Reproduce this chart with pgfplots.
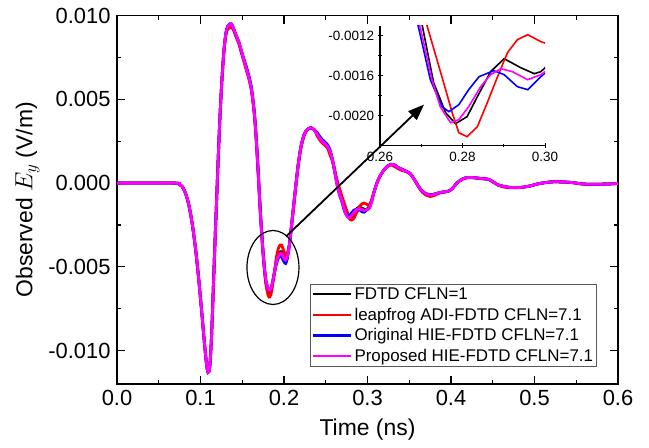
\documentclass[border=0pt]{standalone}
\usepackage{fontspec}
\setmainfont{Liberation Sans}
\usepackage{pgfplots}
\usepackage{pgfplotstable}
\pgfplotsset{compat=1.18}
\usetikzlibrary{arrows.meta}
\definecolor{cmag}{RGB}{255,0,255}
\definecolor{cred}{RGB}{255,0,0}
\definecolor{cblue}{RGB}{0,0,255}

% FDTD CFLN=1
\pgfplotstableread{
x y
0 0
0.068 0
0.074 -0.00005
0.078 -0.0002
0.082 -0.0006
0.086 -0.0013
0.090 -0.0024
0.094 -0.0039
0.098 -0.0058
0.102 -0.0080
0.105 -0.0097
0.107 -0.0107
0.109 -0.0113
0.111 -0.0110
0.113 -0.0094
0.115 -0.0068
0.117 -0.0040
0.119 -0.0014
0.121 0.0012
0.123 0.0036
0.125 0.0056
0.127 0.0072
0.129 0.0084
0.131 0.0091
0.133 0.0094
0.135 0.0095
0.137 0.0095
0.139 0.0093
0.142 0.0089
0.146 0.0084
0.150 0.0077
0.154 0.0070
0.158 0.0063
0.161 0.0056
0.164 0.0044
0.166 0.0032
0.168 0.0016
0.170 -0.0002
0.172 -0.0020
0.175 -0.0042
0.178 -0.0058
0.181 -0.0065
0.183 -0.0066
0.185 -0.0063
0.188 -0.0055
0.191 -0.0047
0.194 -0.0042
0.197 -0.0041
0.200 -0.0044
0.202 -0.0045
0.204 -0.0043
0.206 -0.0038
0.208 -0.0030
0.211 -0.0016
0.214 -0.0002
0.217 0.0011
0.220 0.0021
0.224 0.0029
0.228 0.0032
0.232 0.0033
0.236 0.0032
0.240 0.0029
0.244 0.0026
0.248 0.0024
0.252 0.0022
0.255 0.0019
0.258 0.0014
0.261 0.0007
0.264 -0.0001
0.267 -0.0006
0.2702 -0.00109
0.2730 -0.00167
0.2759 -0.00197
0.2783 -0.00208
0.2811 -0.00201
0.2836 -0.00181
0.2868 -0.00156
0.2901 -0.00143
0.2941 -0.00152
0.2974 -0.00158
0.2990 -0.00156
0.3010 -0.00148
0.304 -0.0012
0.308 -0.0005
0.312 0.0001
0.316 0.0005
0.320 0.0008
0.324 0.00102
0.328 0.00112
0.332 0.0011
0.336 0.00095
0.341 0.00082
0.346 0.0007
0.351 0.00058
0.355 0.0003
0.359 -0.00002
0.364 -0.0004
0.369 -0.0006
0.375 -0.00072
0.381 -0.00066
0.387 -0.00056
0.397 -0.00048
0.402 -0.0003
0.407 0.0
0.414 0.00025
0.421 0.00034
0.428 0.00032
0.435 0.00028
0.445 0.00022
0.451 0.00005
0.457 -0.00012
0.464 -0.0002
0.471 -0.00026
0.4835 -0.00026
0.4955 -0.00016
0.5036 -0.00005
0.5116 0.00002
0.5236 0.00008
0.5437 0.00004
0.5598 -0.00006
0.584 -0.00006
0.6 -0.00002
}\tblack

% leapfrog ADI-FDTD CFLN=7.1
\pgfplotstableread{
x y
0 0
0.068 0
0.074 -0.00005
0.078 -0.0002
0.082 -0.0006
0.086 -0.0013
0.090 -0.0024
0.094 -0.0039
0.098 -0.0058
0.102 -0.0080
0.105 -0.0097
0.107 -0.0107
0.109 -0.0113
0.111 -0.0110
0.113 -0.0094
0.115 -0.0068
0.117 -0.0040
0.119 -0.0014
0.121 0.0012
0.123 0.0036
0.125 0.0056
0.127 0.0072
0.129 0.0083
0.131 0.0090
0.133 0.0092
0.135 0.0093
0.137 0.0093
0.139 0.0092
0.142 0.0088
0.146 0.0083
0.150 0.0076
0.154 0.0069
0.158 0.0062
0.161 0.0055
0.164 0.0043
0.166 0.0031
0.168 0.0015
0.170 -0.0003
0.172 -0.0021
0.175 -0.0043
0.178 -0.0059
0.181 -0.0067
0.183 -0.0068
0.185 -0.0065
0.188 -0.0055
0.191 -0.0044
0.194 -0.0038
0.197 -0.0037
0.200 -0.0041
0.202 -0.0043
0.204 -0.0042
0.206 -0.0038
0.208 -0.0031
0.211 -0.0017
0.214 -0.0003
0.217 0.0010
0.220 0.0020
0.224 0.0028
0.228 0.0032
0.232 0.0033
0.236 0.0032
0.240 0.0028
0.244 0.0025
0.248 0.0023
0.252 0.0021
0.255 0.0017
0.258 0.0013
0.261 0.0007
0.264 0.0001
0.267 -0.0004
0.2714 -0.0011
0.2750 -0.00161
0.2775 -0.00197
0.2791 -0.00217
0.2811 -0.00221
0.2836 -0.00211
0.2860 -0.00187
0.2885 -0.00161
0.2909 -0.00137
0.2933 -0.00124
0.2958 -0.00119
0.2990 -0.00126
0.3020 -0.0013
0.305 -0.0010
0.308 -0.0005
0.312 0.0001
0.316 0.0005
0.320 0.0008
0.324 0.00100
0.328 0.00108
0.332 0.0010
0.336 0.00088
0.341 0.00076
0.346 0.0007
0.351 0.00055
0.355 0.0003
0.359 -0.00005
0.364 -0.00045
0.369 -0.00068
0.375 -0.0008
0.381 -0.00072
0.387 -0.00058
0.397 -0.00048
0.402 -0.0003
0.407 0.0
0.414 0.00025
0.421 0.00034
0.428 0.00032
0.435 0.00028
0.445 0.00022
0.451 0.00005
0.457 -0.00014
0.464 -0.00024
0.471 -0.00028
0.4835 -0.00026
0.4955 -0.00016
0.5036 -0.00005
0.5116 0.00002
0.5236 0.00008
0.5437 0.00004
0.5598 -0.00006
0.584 -0.00006
0.6 -0.00002
}\tred

% Original HIE-FDTD CFLN=7.1
\pgfplotstableread{
x y
0 0
0.068 0
0.074 -0.00005
0.078 -0.0002
0.082 -0.0006
0.086 -0.0013
0.090 -0.0024
0.094 -0.0039
0.098 -0.0058
0.102 -0.0080
0.105 -0.0097
0.107 -0.0107
0.109 -0.0113
0.111 -0.0110
0.113 -0.0094
0.115 -0.0068
0.117 -0.0040
0.119 -0.0014
0.121 0.0012
0.123 0.0036
0.125 0.0056
0.127 0.0072
0.129 0.0084
0.131 0.0091
0.133 0.0094
0.135 0.0095
0.137 0.0095
0.139 0.0093
0.142 0.0089
0.146 0.0084
0.150 0.0077
0.154 0.0071
0.158 0.0064
0.161 0.0057
0.164 0.0045
0.166 0.0033
0.168 0.0017
0.170 -0.0001
0.172 -0.0019
0.175 -0.0041
0.178 -0.0057
0.181 -0.0063
0.183 -0.0064
0.185 -0.0062
0.188 -0.0055
0.191 -0.0048
0.194 -0.0044
0.197 -0.0044
0.200 -0.0047
0.202 -0.0048
0.204 -0.0045
0.206 -0.0039
0.208 -0.0030
0.211 -0.0016
0.214 -0.0002
0.217 0.0011
0.220 0.0021
0.224 0.0029
0.228 0.0032
0.232 0.0033
0.236 0.0032
0.240 0.0030
0.244 0.0027
0.248 0.0025
0.252 0.0023
0.255 0.0020
0.258 0.0014
0.261 0.0006
0.264 -0.0002
0.2665 -0.0007
0.2693 -0.00111
0.2722 -0.00164
0.2750 -0.00191
0.2767 -0.00196
0.2791 -0.00189
0.2815 -0.00174
0.2840 -0.00161
0.2876 -0.00155
0.2901 -0.00159
0.2933 -0.00171
0.2958 -0.00174
0.2990 -0.00161
0.3020 -0.0015
0.305 -0.0011
0.308 -0.0005
0.312 0.0001
0.316 0.0005
0.320 0.0008
0.324 0.00102
0.328 0.00112
0.332 0.0011
0.336 0.00095
0.341 0.00084
0.346 0.00072
0.351 0.00058
0.355 0.0003
0.359 -0.00002
0.364 -0.0004
0.369 -0.0006
0.375 -0.00070
0.381 -0.00064
0.387 -0.00056
0.397 -0.00048
0.402 -0.0003
0.407 0.0
0.414 0.00025
0.421 0.00034
0.428 0.00032
0.435 0.00028
0.445 0.00022
0.451 0.00005
0.457 -0.00012
0.464 -0.0002
0.471 -0.00026
0.4835 -0.00026
0.4955 -0.00016
0.5036 -0.00005
0.5116 0.00002
0.5236 0.00008
0.5437 0.00004
0.5598 -0.00006
0.584 -0.00006
0.6 -0.00002
}\tblue

% Proposed HIE-FDTD CFLN=7.1
\pgfplotstableread{
x y
0 0
0.068 0
0.074 -0.00005
0.078 -0.0002
0.082 -0.0006
0.086 -0.0013
0.090 -0.0024
0.094 -0.0039
0.098 -0.0058
0.102 -0.0080
0.105 -0.0097
0.107 -0.0107
0.109 -0.0113
0.111 -0.0110
0.113 -0.0094
0.115 -0.0068
0.117 -0.0040
0.119 -0.0014
0.121 0.0012
0.123 0.0036
0.125 0.0056
0.127 0.0072
0.129 0.0084
0.131 0.0091
0.133 0.0094
0.135 0.0095
0.137 0.0095
0.139 0.0093
0.142 0.0089
0.146 0.0084
0.150 0.0077
0.154 0.0070
0.158 0.0063
0.161 0.0056
0.164 0.0044
0.166 0.0032
0.168 0.0016
0.170 -0.0002
0.172 -0.0020
0.175 -0.0042
0.178 -0.0057
0.181 -0.0063
0.183 -0.0064
0.185 -0.0062
0.188 -0.0055
0.191 -0.0047
0.194 -0.0043
0.197 -0.0042
0.200 -0.0045
0.202 -0.0046
0.204 -0.0044
0.206 -0.0039
0.208 -0.0030
0.211 -0.0016
0.214 -0.0002
0.217 0.0011
0.220 0.0021
0.224 0.0029
0.228 0.0032
0.232 0.0033
0.236 0.0032
0.240 0.0029
0.244 0.0026
0.248 0.0024
0.252 0.0022
0.255 0.0019
0.258 0.0014
0.261 0.0006
0.264 -0.0002
0.2667 -0.0007
0.2697 -0.00111
0.2726 -0.00164
0.2746 -0.00191
0.2771 -0.00207
0.2791 -0.00204
0.2815 -0.00191
0.2844 -0.00171
0.2868 -0.00159
0.2893 -0.00153
0.2921 -0.00156
0.2958 -0.00164
0.2990 -0.00159
0.3020 -0.0015
0.305 -0.0011
0.308 -0.0005
0.312 0.0001
0.316 0.0005
0.320 0.0008
0.324 0.00102
0.328 0.00112
0.332 0.0011
0.336 0.00095
0.341 0.00082
0.346 0.0007
0.351 0.00058
0.355 0.0003
0.359 -0.00002
0.364 -0.0004
0.369 -0.0006
0.375 -0.00072
0.381 -0.00066
0.387 -0.00056
0.397 -0.00048
0.402 -0.0003
0.407 0.0
0.414 0.00025
0.421 0.00034
0.428 0.00032
0.435 0.00028
0.445 0.00022
0.451 0.00005
0.457 -0.00012
0.464 -0.0002
0.471 -0.00026
0.4835 -0.00026
0.4955 -0.00016
0.5036 -0.00005
0.5116 0.00002
0.5236 0.00008
0.5437 0.00004
0.5598 -0.00006
0.584 -0.00006
0.6 -0.00002
}\tmagenta

\begin{document}
\begin{tikzpicture}
\useasboundingbox (-117bp,-64bp) rectangle (532bp,384bp);
\begin{axis}[name=main,
  at={(0,0)}, anchor=south west,
  scale only axis,
  width=501bp, height=368.3bp,
  xmin=0, xmax=0.6, ymin=-0.012, ymax=0.010,
  xtick={0,0.1,0.2,0.3,0.4,0.5,0.6},
  ytick={-0.01,-0.005,0,0.005,0.01},
  minor x tick num=1, minor y tick num=1,
  scaled ticks=false,
  tick label style={font=\fontsize{22}{26}\selectfont},
  xticklabel style={yshift=-3bp,/pgf/number format/.cd,fixed,fixed zerofill,precision=1},
  yticklabel style={xshift=-3bp,/pgf/number format/.cd,fixed,fixed zerofill,precision=3},
  /pgf/number format/assume math mode=true,
  label style={font=\fontsize{23}{27}\selectfont},
  xlabel={Time (ns)},
  ylabel={Observed $E_y$ (V/m)},
  xlabel style={yshift=-6bp},
  ylabel style={yshift=2bp},
  axis line style={line width=1.5bp},
  major tick length=8bp, minor tick length=4bp,
  every tick/.style={line width=1.2bp, black},
  legend style={at={(1,0)}, anchor=south east, xshift=-21bp, yshift=17bp,
    draw=gray!70!black, line width=0.8bp,
    font=\fontsize{17}{20}\selectfont, inner sep=1.5bp, row sep=3bp},
  legend cell align=left,
  legend image code/.code={\draw[#1, line width=2.4bp] (0bp,0bp) -- (38bp,0bp);},
]
\addplot[black, line width=2.8bp, smooth] table {\tblack};
\addlegendentry{FDTD CFLN=1}
\addplot[cred, line width=2.8bp, smooth] table {\tred};
\addlegendentry{leapfrog ADI-FDTD CFLN=7.1}
\addplot[cblue, line width=2.8bp, smooth] table {\tblue};
\addlegendentry{Original HIE-FDTD CFLN=7.1}
\addplot[cmag, line width=2.8bp, smooth] table {\tmagenta};
\addlegendentry{Proposed HIE-FDTD CFLN=7.1}
\draw[line width=1.2bp] (axis cs:0.1868,-0.00504) ellipse [x radius=26bp, y radius=37bp];
\coordinate (atail) at (axis cs:0.2024,-0.00319);
\coordinate (ahead) at (axis cs:0.3677,0.00469);
\end{axis}

\begin{axis}[name=inset,
  at={(main.south west)}, anchor=south west, xshift=263bp, yshift=238.3bp,
  scale only axis,
  width=165bp, height=120bp,
  xmin=0.26, xmax=0.30, ymin=-0.0023, ymax=-0.0011,
  axis lines=left,
  axis line style={-, line width=1.2bp},
  xtick={0.26,0.28,0.30},
  ytick={-0.0020,-0.0016,-0.0012},
  minor x tick num=1, minor y tick num=1,
  scaled ticks=false,
  xticklabel style={/pgf/number format/.cd,fixed,fixed zerofill,precision=2},
  yticklabel style={/pgf/number format/.cd,fixed,fixed zerofill,precision=4},
  /pgf/number format/assume math mode=true,
  tick label style={font=\fontsize{13.5}{16}\selectfont},
  major tick length=5bp, minor tick length=3.5bp,
  every tick/.style={line width=1bp, black},
]
\addplot[black, line width=1.6bp] table {\tblack};
\addplot[cred, line width=1.6bp] table {\tred};
\addplot[cblue, line width=1.6bp] table {\tblue};
\addplot[cmag, line width=1.6bp] table {\tmagenta};
\end{axis}

\draw[line width=1.8bp, -{Triangle[length=16bp,width=12bp]}] (atail) -- (ahead);
\end{tikzpicture}
\end{document}
